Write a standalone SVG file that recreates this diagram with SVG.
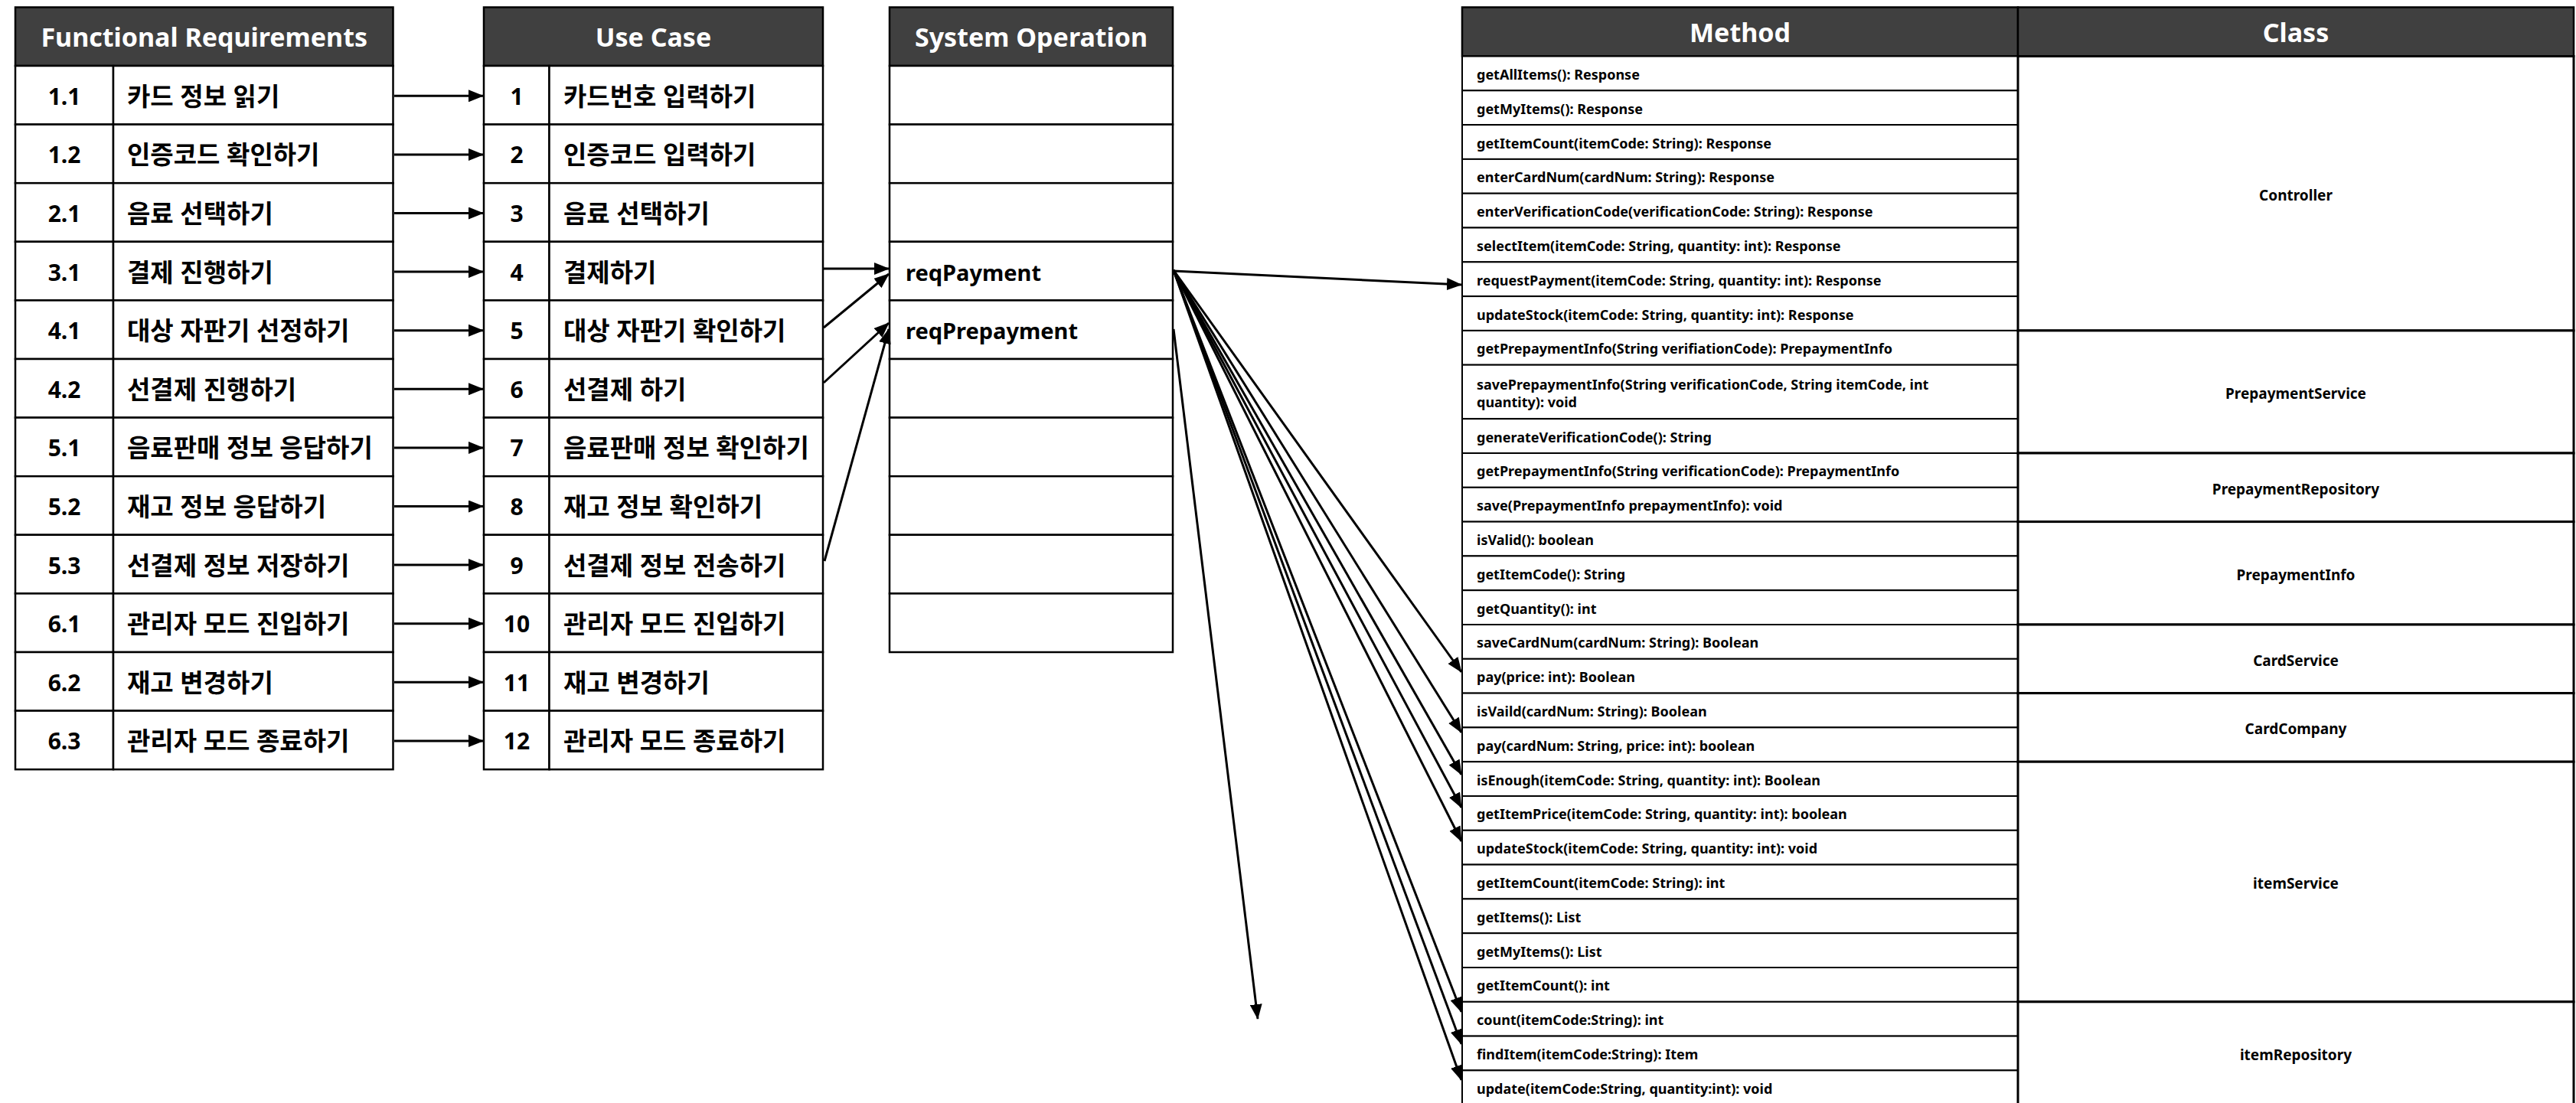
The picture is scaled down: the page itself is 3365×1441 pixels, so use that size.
<svg xmlns="http://www.w3.org/2000/svg" width="3365" height="1441" viewBox="0 0 3365 1441">
<style>
.hdr{fill:#404040;stroke:#000;stroke-width:2.5}
.cell{fill:#fff;stroke:#000;stroke-width:2.5}
.mcell{fill:#fff;stroke:#000;stroke-width:2}
.ccell{fill:#fff;stroke:#000;stroke-width:3}
text{font-family:"Noto Sans","Noto Sans CJK KR",sans-serif;dominant-baseline:central}
.ht{fill:#fff;font-weight:bold;font-size:34px;text-anchor:middle}
.t{font-weight:bold;font-size:33px;fill:#000}
.s{font-weight:bold;font-size:29px;fill:#000}
.n{font-weight:bold;font-size:30px;fill:#000;text-anchor:middle}
.m{font-weight:bold;font-size:18px;fill:#000}
.c{font-weight:bold;font-size:19px;fill:#000;text-anchor:middle}
.conn line{stroke:#000;stroke-width:3;marker-end:url(#ah)}
</style>
<defs>
<marker id="ah" markerUnits="userSpaceOnUse" markerWidth="20" markerHeight="16" refX="19" refY="8" orient="auto" viewBox="0 0 20 16"><path d="M0,0 L20,8 L0,16 z" fill="#000"/></marker>
</defs>
<rect width="3365" height="1441" fill="#fff"/>

<!-- Functional Requirements -->
<g id="fr-table">
<g id="fr-header"><rect class="hdr" x="20" y="9.5" width="493.5" height="76.5"/><text class="ht" x="266.7" y="48">Functional Requirements</text></g>
<g id="fr-1-1"><rect class="cell" x="20" y="86" width="128" height="76.6"/><rect class="cell" x="148" y="86" width="365.5" height="76.6"/><text class="n" x="84" y="125.3">1.1</text><text class="t" x="166" y="125.3">카드 정보 읽기</text></g>
<g id="fr-1-2"><rect class="cell" x="20" y="162.6" width="128" height="76.6"/><rect class="cell" x="148" y="162.6" width="365.5" height="76.6"/><text class="n" x="84" y="201.9">1.2</text><text class="t" x="166" y="201.9">인증코드 확인하기</text></g>
<g id="fr-2-1"><rect class="cell" x="20" y="239.2" width="128" height="76.6"/><rect class="cell" x="148" y="239.2" width="365.5" height="76.6"/><text class="n" x="84" y="278.5">2.1</text><text class="t" x="166" y="278.5">음료 선택하기</text></g>
<g id="fr-3-1"><rect class="cell" x="20" y="315.8" width="128" height="76.6"/><rect class="cell" x="148" y="315.8" width="365.5" height="76.6"/><text class="n" x="84" y="355.1">3.1</text><text class="t" x="166" y="355.1">결제 진행하기</text></g>
<g id="fr-4-1"><rect class="cell" x="20" y="392.4" width="128" height="76.6"/><rect class="cell" x="148" y="392.4" width="365.5" height="76.6"/><text class="n" x="84" y="431.7">4.1</text><text class="t" x="166" y="431.7">대상 자판기 선정하기</text></g>
<g id="fr-4-2"><rect class="cell" x="20" y="469" width="128" height="76.6"/><rect class="cell" x="148" y="469" width="365.5" height="76.6"/><text class="n" x="84" y="508.3">4.2</text><text class="t" x="166" y="508.3">선결제 진행하기</text></g>
<g id="fr-5-1"><rect class="cell" x="20" y="545.6" width="128" height="76.6"/><rect class="cell" x="148" y="545.6" width="365.5" height="76.6"/><text class="n" x="84" y="584.9">5.1</text><text class="t" x="166" y="584.9">음료판매 정보 응답하기</text></g>
<g id="fr-5-2"><rect class="cell" x="20" y="622.2" width="128" height="76.6"/><rect class="cell" x="148" y="622.2" width="365.5" height="76.6"/><text class="n" x="84" y="661.5">5.2</text><text class="t" x="166" y="661.5">재고 정보 응답하기</text></g>
<g id="fr-5-3"><rect class="cell" x="20" y="698.8" width="128" height="76.6"/><rect class="cell" x="148" y="698.8" width="365.5" height="76.6"/><text class="n" x="84" y="738.1">5.3</text><text class="t" x="166" y="738.1">선결제 정보 저장하기</text></g>
<g id="fr-6-1"><rect class="cell" x="20" y="775.4" width="128" height="76.6"/><rect class="cell" x="148" y="775.4" width="365.5" height="76.6"/><text class="n" x="84" y="814.7">6.1</text><text class="t" x="166" y="814.7">관리자 모드 진입하기</text></g>
<g id="fr-6-2"><rect class="cell" x="20" y="852" width="128" height="76.6"/><rect class="cell" x="148" y="852" width="365.5" height="76.6"/><text class="n" x="84" y="891.3">6.2</text><text class="t" x="166" y="891.3">재고 변경하기</text></g>
<g id="fr-6-3"><rect class="cell" x="20" y="928.6" width="128" height="76.6"/><rect class="cell" x="148" y="928.6" width="365.5" height="76.6"/><text class="n" x="84" y="967.9">6.3</text><text class="t" x="166" y="967.9">관리자 모드 종료하기</text></g>
</g>

<!-- Use Case -->
<g id="uc-table">
<g id="uc-header"><rect class="hdr" x="632" y="9.5" width="443" height="76.5"/><text class="ht" x="853.5" y="48">Use Case</text></g>
<g id="uc-1"><rect class="cell" x="632" y="86" width="85.5" height="76.6"/><rect class="cell" x="717.5" y="86" width="357.5" height="76.6"/><text class="n" x="675" y="125.3">1</text><text class="t" x="736" y="125.3">카드번호 입력하기</text></g>
<g id="uc-2"><rect class="cell" x="632" y="162.6" width="85.5" height="76.6"/><rect class="cell" x="717.5" y="162.6" width="357.5" height="76.6"/><text class="n" x="675" y="201.9">2</text><text class="t" x="736" y="201.9">인증코드 입력하기</text></g>
<g id="uc-3"><rect class="cell" x="632" y="239.2" width="85.5" height="76.6"/><rect class="cell" x="717.5" y="239.2" width="357.5" height="76.6"/><text class="n" x="675" y="278.5">3</text><text class="t" x="736" y="278.5">음료 선택하기</text></g>
<g id="uc-4"><rect class="cell" x="632" y="315.8" width="85.5" height="76.6"/><rect class="cell" x="717.5" y="315.8" width="357.5" height="76.6"/><text class="n" x="675" y="355.1">4</text><text class="t" x="736" y="355.1">결제하기</text></g>
<g id="uc-5"><rect class="cell" x="632" y="392.4" width="85.5" height="76.6"/><rect class="cell" x="717.5" y="392.4" width="357.5" height="76.6"/><text class="n" x="675" y="431.7">5</text><text class="t" x="736" y="431.7">대상 자판기 확인하기</text></g>
<g id="uc-6"><rect class="cell" x="632" y="469" width="85.5" height="76.6"/><rect class="cell" x="717.5" y="469" width="357.5" height="76.6"/><text class="n" x="675" y="508.3">6</text><text class="t" x="736" y="508.3">선결제 하기</text></g>
<g id="uc-7"><rect class="cell" x="632" y="545.6" width="85.5" height="76.6"/><rect class="cell" x="717.5" y="545.6" width="357.5" height="76.6"/><text class="n" x="675" y="584.9">7</text><text class="t" x="736" y="584.9">음료판매 정보 확인하기</text></g>
<g id="uc-8"><rect class="cell" x="632" y="622.2" width="85.5" height="76.6"/><rect class="cell" x="717.5" y="622.2" width="357.5" height="76.6"/><text class="n" x="675" y="661.5">8</text><text class="t" x="736" y="661.5">재고 정보 확인하기</text></g>
<g id="uc-9"><rect class="cell" x="632" y="698.8" width="85.5" height="76.6"/><rect class="cell" x="717.5" y="698.8" width="357.5" height="76.6"/><text class="n" x="675" y="738.1">9</text><text class="t" x="736" y="738.1">선결제 정보 전송하기</text></g>
<g id="uc-10"><rect class="cell" x="632" y="775.4" width="85.5" height="76.6"/><rect class="cell" x="717.5" y="775.4" width="357.5" height="76.6"/><text class="n" x="675" y="814.7">10</text><text class="t" x="736" y="814.7">관리자 모드 진입하기</text></g>
<g id="uc-11"><rect class="cell" x="632" y="852" width="85.5" height="76.6"/><rect class="cell" x="717.5" y="852" width="357.5" height="76.6"/><text class="n" x="675" y="891.3">11</text><text class="t" x="736" y="891.3">재고 변경하기</text></g>
<g id="uc-12"><rect class="cell" x="632" y="928.6" width="85.5" height="76.6"/><rect class="cell" x="717.5" y="928.6" width="357.5" height="76.6"/><text class="n" x="675" y="967.9">12</text><text class="t" x="736" y="967.9">관리자 모드 종료하기</text></g>
</g>

<!-- System Operation -->
<g id="so-table">
<g id="so-header"><rect class="hdr" x="1162" y="9.5" width="370" height="76.5"/><text class="ht" x="1347" y="48">System Operation</text></g>
<g id="so-1"><rect class="cell" x="1162" y="86" width="370" height="76.6"/></g>
<g id="so-2"><rect class="cell" x="1162" y="162.6" width="370" height="76.6"/></g>
<g id="so-3"><rect class="cell" x="1162" y="239.2" width="370" height="76.6"/></g>
<g id="so-reqPayment"><rect class="cell" x="1162" y="315.8" width="370" height="76.6"/><text class="s" x="1183" y="355.1">reqPayment</text></g>
<g id="so-reqPrepayment"><rect class="cell" x="1162" y="392.4" width="370" height="76.6"/><text class="s" x="1183" y="431.7">reqPrepayment</text></g>
<g id="so-6"><rect class="cell" x="1162" y="469" width="370" height="76.6"/></g>
<g id="so-7"><rect class="cell" x="1162" y="545.6" width="370" height="76.6"/></g>
<g id="so-8"><rect class="cell" x="1162" y="622.2" width="370" height="76.6"/></g>
<g id="so-9"><rect class="cell" x="1162" y="698.8" width="370" height="76.6"/></g>
<g id="so-10"><rect class="cell" x="1162" y="775.4" width="370" height="76.6"/></g>
</g>

<!-- Method / Class -->
<g id="method-table">
<g id="method-header"><rect class="hdr" x="1910" y="9.5" width="726" height="64"/><text class="ht" x="2273" y="41.5">Method</text></g>
<g id="class-header"><rect class="hdr" x="2636" y="9.5" width="726" height="64"/><text class="ht" x="2999" y="41.5">Class</text></g>
<g id="m-0"><rect class="mcell" x="1910" y="73.5" width="726" height="44.8"/><text class="m" x="1929" y="96.9">getAllItems(): Response</text></g>
<g id="m-1"><rect class="mcell" x="1910" y="118.3" width="726" height="44.8"/><text class="m" x="1929" y="141.7">getMyItems(): Response</text></g>
<g id="m-2"><rect class="mcell" x="1910" y="163.1" width="726" height="44.8"/><text class="m" x="1929" y="186.5">getItemCount(itemCode: String): Response</text></g>
<g id="m-3"><rect class="mcell" x="1910" y="207.9" width="726" height="44.8"/><text class="m" x="1929" y="231.3">enterCardNum(cardNum: String): Response</text></g>
<g id="m-4"><rect class="mcell" x="1910" y="252.7" width="726" height="44.8"/><text class="m" x="1929" y="276.1">enterVerificationCode(verificationCode: String): Response</text></g>
<g id="m-5"><rect class="mcell" x="1910" y="297.5" width="726" height="44.8"/><text class="m" x="1929" y="320.9">selectItem(itemCode: String, quantity: int): Response</text></g>
<g id="m-6"><rect class="mcell" x="1910" y="342.3" width="726" height="44.8"/><text class="m" x="1929" y="365.7">requestPayment(itemCode: String, quantity: int): Response</text></g>
<g id="m-7"><rect class="mcell" x="1910" y="387.1" width="726" height="44.8"/><text class="m" x="1929" y="410.5">updateStock(itemCode: String, quantity: int): Response</text></g>
<g id="m-8"><rect class="mcell" x="1910" y="431.9" width="726" height="44.8"/><text class="m" x="1929" y="455.3">getPrepaymentInfo(String verifiationCode): PrepaymentInfo</text></g>
<g id="m-9"><rect class="mcell" x="1910" y="476.7" width="726" height="70.5"/><text class="m" x="1929" y="501.5">savePrepaymentInfo(String verificationCode, String itemCode, int</text><text class="m" x="1929" y="524.5">quantity): void</text></g>
<g id="m-10"><rect class="mcell" x="1910" y="547.2" width="726" height="44.8"/><text class="m" x="1929" y="570.6">generateVerificationCode(): String</text></g>
<g id="m-11"><rect class="mcell" x="1910" y="592" width="726" height="44.8"/><text class="m" x="1929" y="615.4">getPrepaymentInfo(String verificationCode): PrepaymentInfo</text></g>
<g id="m-12"><rect class="mcell" x="1910" y="636.8" width="726" height="44.8"/><text class="m" x="1929" y="660.2">save(PrepaymentInfo prepaymentInfo): void</text></g>
<g id="m-13"><rect class="mcell" x="1910" y="681.6" width="726" height="44.8"/><text class="m" x="1929" y="705">isValid(): boolean</text></g>
<g id="m-14"><rect class="mcell" x="1910" y="726.4" width="726" height="44.8"/><text class="m" x="1929" y="749.8">getItemCode(): String</text></g>
<g id="m-15"><rect class="mcell" x="1910" y="771.2" width="726" height="44.8"/><text class="m" x="1929" y="794.6">getQuantity(): int</text></g>
<g id="m-16"><rect class="mcell" x="1910" y="816" width="726" height="44.8"/><text class="m" x="1929" y="839.4">saveCardNum(cardNum: String): Boolean</text></g>
<g id="m-17"><rect class="mcell" x="1910" y="860.8" width="726" height="44.8"/><text class="m" x="1929" y="884.2">pay(price: int): Boolean</text></g>
<g id="m-18"><rect class="mcell" x="1910" y="905.6" width="726" height="44.8"/><text class="m" x="1929" y="929">isVaild(cardNum: String): Boolean</text></g>
<g id="m-19"><rect class="mcell" x="1910" y="950.4" width="726" height="44.8"/><text class="m" x="1929" y="973.8">pay(cardNum: String, price: int): boolean</text></g>
<g id="m-20"><rect class="mcell" x="1910" y="995.2" width="726" height="44.8"/><text class="m" x="1929" y="1018.6">isEnough(itemCode: String, quantity: int): Boolean</text></g>
<g id="m-21"><rect class="mcell" x="1910" y="1040" width="726" height="44.8"/><text class="m" x="1929" y="1063.4">getItemPrice(itemCode: String, quantity: int): boolean</text></g>
<g id="m-22"><rect class="mcell" x="1910" y="1084.8" width="726" height="44.8"/><text class="m" x="1929" y="1108.2">updateStock(itemCode: String, quantity: int): void</text></g>
<g id="m-23"><rect class="mcell" x="1910" y="1129.6" width="726" height="44.8"/><text class="m" x="1929" y="1153">getItemCount(itemCode: String): int</text></g>
<g id="m-24"><rect class="mcell" x="1910" y="1174.4" width="726" height="44.8"/><text class="m" x="1929" y="1197.8">getItems(): List</text></g>
<g id="m-25"><rect class="mcell" x="1910" y="1219.2" width="726" height="44.8"/><text class="m" x="1929" y="1242.6">getMyItems(): List</text></g>
<g id="m-26"><rect class="mcell" x="1910" y="1264" width="726" height="44.8"/><text class="m" x="1929" y="1287.4">getItemCount(): int</text></g>
<g id="m-27"><rect class="mcell" x="1910" y="1308.8" width="726" height="44.8"/><text class="m" x="1929" y="1332.2">count(itemCode:String): int</text></g>
<g id="m-28"><rect class="mcell" x="1910" y="1353.6" width="726" height="44.8"/><text class="m" x="1929" y="1377">findItem(itemCode:String): Item</text></g>
<g id="m-29"><rect class="mcell" x="1910" y="1398.4" width="726" height="44.8"/><text class="m" x="1929" y="1421.8">update(itemCode:String, quantity:int): void</text></g>

<g id="class-Controller"><rect class="ccell" x="2636" y="73.5" width="726" height="358.4"/><text class="c" x="2999" y="254.7">Controller</text></g>
<g id="class-PrepaymentService"><rect class="ccell" x="2636" y="431.9" width="726" height="160.1"/><text class="c" x="2999" y="514">PrepaymentService</text></g>
<g id="class-PrepaymentRepository"><rect class="ccell" x="2636" y="592" width="726" height="89.6"/><text class="c" x="2999" y="638.8">PrepaymentRepository</text></g>
<g id="class-PrepaymentInfo"><rect class="ccell" x="2636" y="681.6" width="726" height="134.4"/><text class="c" x="2999" y="750.8">PrepaymentInfo</text></g>
<g id="class-CardService"><rect class="ccell" x="2636" y="816" width="726" height="89.6"/><text class="c" x="2999" y="862.8">CardService</text></g>
<g id="class-CardCompany"><rect class="ccell" x="2636" y="905.6" width="726" height="89.6"/><text class="c" x="2999" y="952.4">CardCompany</text></g>
<g id="class-itemService"><rect class="ccell" x="2636" y="995.2" width="726" height="313.6"/><text class="c" x="2999" y="1154">itemService</text></g>
<g id="class-itemRepository"><rect class="ccell" x="2636" y="1308.8" width="726" height="134.4"/><text class="c" x="2999" y="1378">itemRepository</text></g>
</g>

<!-- Connectors -->
<g id="connectors" class="conn">
<line x1="515" y1="125.3" x2="631" y2="125.3"/>
<line x1="515" y1="201.9" x2="631" y2="201.9"/>
<line x1="515" y1="278.5" x2="631" y2="278.5"/>
<line x1="515" y1="355.1" x2="631" y2="355.1"/>
<line x1="515" y1="431.7" x2="631" y2="431.7"/>
<line x1="515" y1="508.3" x2="631" y2="508.3"/>
<line x1="515" y1="584.9" x2="631" y2="584.9"/>
<line x1="515" y1="661.5" x2="631" y2="661.5"/>
<line x1="515" y1="738.1" x2="631" y2="738.1"/>
<line x1="515" y1="814.7" x2="631" y2="814.7"/>
<line x1="515" y1="891.3" x2="631" y2="891.3"/>
<line x1="515" y1="967.9" x2="631" y2="967.9"/>

<line x1="1076" y1="351" x2="1161" y2="351"/>
<line x1="1076" y1="428" x2="1161" y2="358"/>
<line x1="1076" y1="500" x2="1161" y2="422"/>
<line x1="1077" y1="733" x2="1161" y2="430"/>

<line x1="1533" y1="354" x2="1909" y2="372"/>
<line x1="1533" y1="353" x2="1909" y2="878"/>
<line x1="1533" y1="353" x2="1909" y2="957"/>
<line x1="1533" y1="353" x2="1909" y2="1012"/>
<line x1="1533" y1="353" x2="1909" y2="1055"/>
<line x1="1533" y1="353" x2="1909" y2="1099"/>
<line x1="1533" y1="353" x2="1909" y2="1322"/>
<line x1="1533" y1="353" x2="1909" y2="1364"/>
<line x1="1533" y1="353" x2="1909" y2="1411"/>
<line x1="1533" y1="430" x2="1643" y2="1331"/>
</g>
</svg>
